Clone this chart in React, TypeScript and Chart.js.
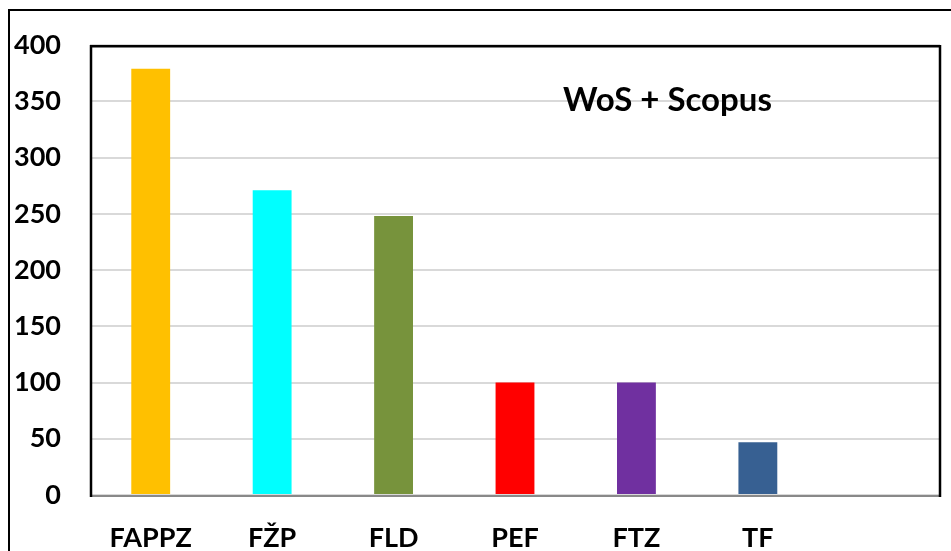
import React, { useEffect, useRef } from "react";
import { Chart, registerables } from "chart.js";

Chart.register(...registerables);

const categories = ["FAPPZ", "FŽP", "FLD", "PEF", "FTZ", "TF", ""];
const values: (number | null)[] = [379, 271, 248, 100, 100, 47, null];
const barColors = ["#FFC000", "#00FFFF", "#77933C", "#FF0000", "#7030A0", "#376092", "#000000"];
const yTicks = [0, 50, 100, 150, 200, 250, 300, 350, 400];
const titleText = "WoS + Scopus";

const FONT = "Lato, 'Liberation Sans', sans-serif";

const framePlugin = {
  id: "frame",
  beforeDraw(chart: any) {
    const ctx = chart.ctx;
    ctx.save();
    ctx.fillStyle = "#ffffff";
    ctx.fillRect(0, 0, chart.width, chart.height);
    ctx.restore();
  },
  afterDraw(chart: any) {
    const { ctx, chartArea } = chart;
    const { left, right, top, bottom } = chartArea;
    ctx.save();
    // outer border (left and top)
    ctx.strokeStyle = "#000000";
    ctx.lineWidth = 2;
    ctx.beginPath();
    ctx.moveTo(9, chart.height);
    ctx.lineTo(9, 10);
    ctx.lineTo(chart.width, 10);
    ctx.stroke();
    // bottom axis line (gray)
    ctx.strokeStyle = "#898989";
    ctx.lineWidth = 2;
    ctx.beginPath();
    ctx.moveTo(left, bottom + 1);
    ctx.lineTo(right, bottom + 1);
    ctx.stroke();
    // plot frame (left, top, right)
    ctx.strokeStyle = "#000000";
    ctx.lineWidth = 2.5;
    ctx.beginPath();
    ctx.moveTo(left + 1, bottom + 2);
    ctx.lineTo(left + 1, top + 1);
    ctx.lineTo(right, top + 1);
    ctx.lineTo(right, bottom + 2);
    ctx.stroke();
    // title
    ctx.fillStyle = "#000000";
    ctx.font = `bold 33px ${FONT}`;
    ctx.textAlign = "left";
    ctx.textBaseline = "middle";
    ctx.fillText(titleText, left + 473, top + 55);
    ctx.restore();
  },
};

export default function App() {
  const ref = useRef<HTMLCanvasElement | null>(null);

  useEffect(() => {
    document.body.style.margin = "0";
    const canvas = ref.current;
    if (!canvas) return;
    const chart = new Chart(canvas, {
      type: "bar",
      data: {
        labels: categories,
        datasets: [
          {
            data: values,
            backgroundColor: barColors,
            borderWidth: 0,
            categoryPercentage: 1,
            barPercentage: 0.32,
          },
        ],
      },
      options: {
        animation: false,
        responsive: true,
        maintainAspectRatio: false,
        layout: { padding: { left: 0, right: 11, top: 45, bottom: 0 } },
        plugins: {
          legend: { display: false },
          tooltip: { enabled: false },
          title: { display: false },
        },
        scales: {
          x: {
            grid: { display: false, drawTicks: false },
            border: { display: false },
            ticks: {
              color: "#000000",
              font: { family: FONT, size: 27, weight: "bold" },
              padding: 27,
              maxRotation: 0,
              autoSkip: false,
            },
            afterFit(scale: any) {
              scale.height = 56;
            },
          },
          y: {
            min: 0,
            max: 400,
            afterBuildTicks(scale: any) {
              scale.ticks = yTicks.map((v) => ({ value: v }));
            },
            grid: { color: "#D9D9D9", lineWidth: 2, drawTicks: false },
            border: { display: false },
            ticks: {
              color: "#000000",
              font: { family: FONT, size: 27, weight: "bold" },
              padding: 29,
            },
            afterFit(scale: any) {
              scale.width = 90;
            },
          },
        },
      },
      plugins: [framePlugin],
    });
    return () => chart.destroy();
  }, []);

  return (
    <div style={{ position: "fixed", left: 0, top: 0, width: 951, height: 551 }}>
      <canvas ref={ref} />
    </div>
  );
}
